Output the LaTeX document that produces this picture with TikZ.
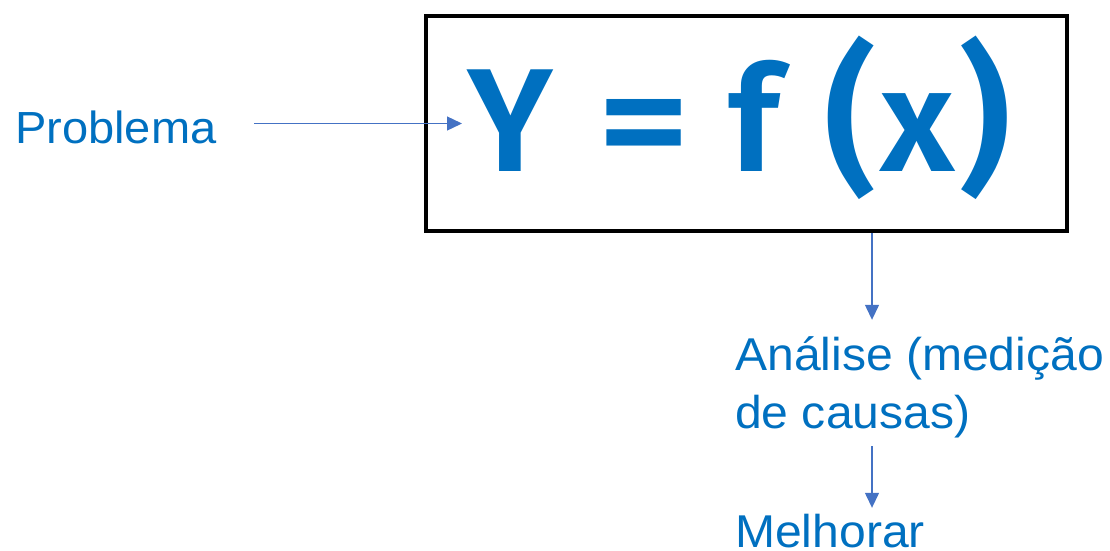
\documentclass[tikz,border=0pt]{standalone}
\usepackage{fontspec}
\setmainfont{Liberation Sans}[FakeStretch=1.045]
\newfontfamily\bigfont{Fira Sans SemiBold}
\usetikzlibrary{arrows.meta}
\definecolor{txtblue}{HTML}{0070C0}
\definecolor{arrblue}{HTML}{4472C4}
\begin{document}
\begin{tikzpicture}[x=1pt,y=-1pt,
  lbl/.style={text=txtblue,inner sep=0pt,anchor=base west,text height=33pt,text depth=0pt,font=\fontsize{46}{58}\selectfont},
  glyph/.style={text=txtblue,inner sep=0pt,anchor=base,font=\bigfont\fontsize{147}{147}\selectfont},
  paren/.style={text=txtblue,inner sep=0pt,anchor=base,font=\bigfont\fontsize{162}{162}\selectfont},
  arr/.style={draw=arrblue,line width=1.3pt,-{Triangle[length=15pt,width=14pt]}},
  frame/.style={draw=black,line width=4pt,inner sep=0pt,minimum width=641pt,minimum height=215.5pt}]
\useasboundingbox (0,0) rectangle (1110,550);
\node[frame] (box) at (746.5,123.3) {};
\node[glyph] (Y) at (510,171) {Y};
\node[glyph] (eq) at (644,171) {\scalebox{1.23}[1]{=}};
\node[glyph] (f) at (754,171) {f};
\node[paren] (lp) at (851,174) {(};
\node[glyph] (x) at (918,171) {x};
\node[paren] (rp) at (985,174) {)};
\node[lbl,font=\fontsize{45}{58}\selectfont] (prob) at (15,143) {Problema};
\node[lbl] (anal1) at (735,370) {Análise (medição};
\node[lbl] (anal2) at (735,428) {de causas)};
\node[lbl] (mel) at (735,547) {Melhorar};
\coordinate (arrx) at (872,0);
\coordinate (pA) at (254,123.5);
\coordinate (pB) at (462,123.5);
\draw[arr] (pA) -- (pB);
\draw[arr] (box.south -| arrx) -- ([yshift=17pt]anal1.north -| arrx);
\draw[arr] ([yshift=-18pt]anal2.south -| arrx) -- ([yshift=6pt]mel.north -| arrx);
\end{tikzpicture}
\end{document}
